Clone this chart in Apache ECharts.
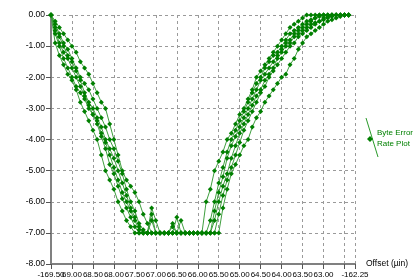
<!DOCTYPE html>
<html lang="en">
<head>
    <meta charset="UTF-8">
    <title>Byte Error Rate Plot</title>
    <script src="https://cdn.jsdelivr.net/npm/echarts@6/dist/echarts.min.js"></script>
    <style>
        html, body { margin: 0; padding: 0; background: #fff; }
        #chart { width: 414px; height: 280px; }
    </style>
</head>
<body>
    <div id="chart"></div>
<script>
    // offset positions (µin), shared by every run
    var xValues = [
        -169.5, -169.4, -169.3, -169.2, -169.1, -169.0, -168.9, -168.8, -168.7, -168.6,
        -168.5, -168.4, -168.3, -168.2, -168.1, -168.0, -167.9, -167.8, -167.7, -167.6,
        -167.5, -167.4, -167.3, -167.2, -167.1, -167.0, -166.9, -166.8, -166.7, -166.6,
        -166.5, -166.4, -166.3, -166.2, -166.1, -166.0, -165.9, -165.8, -165.7, -165.6,
        -165.5, -165.4, -165.3, -165.2, -165.1, -165.0, -164.9, -164.8, -164.7, -164.6,
        -164.5, -164.4, -164.3, -164.2, -164.1, -164.0, -163.9, -163.8, -163.7, -163.6,
        -163.5, -163.4, -163.3, -163.2, -163.1, -163.0, -162.9, -162.8, -162.7, -162.6,
        -162.5, -162.4
    ];

    // log byte error rate of each run
    var run1 = [
        0, -0.9, -1.3, -1.6, -1.9, -2.1, -2.4, -2.8, -3.1, -3.4,
        -3.7, -4.0, -4.5, -5.0, -5.3, -5.6, -6.0, -6.3, -6.6, -6.8,
        -7, -7, -7, -7, -6.6, -7, -7, -7, -7, -7,
        -7, -7, -7, -7, -7, -7, -7, -6.0, -5.6, -5.0,
        -4.7, -4.4, -4.0, -3.8, -3.5, -3.2, -3.0, -2.7, -2.4, -2.0,
        -1.8, -1.6, -1.4, -1.2, -1.0, -0.8, -0.6, -0.4, -0.3, -0.2,
        -0.1, 0, 0, 0, 0, 0, 0, 0, 0, 0,
        0, 0
    ];
    var run2 = [
        0, -0.2, -0.4, -0.6, -0.8, -1.0, -1.2, -1.5, -1.7, -1.9,
        -2.2, -2.5, -2.8, -3.0, -3.5, -4.0, -4.5, -5.0, -5.3, -5.5,
        -5.7, -6.0, -6.4, -6.7, -7, -7, -7, -7, -7, -7,
        -6.5, -7, -7, -7, -7, -7, -7, -7, -7, -7,
        -7, -6.2, -5.6, -5.1, -4.8, -4.5, -4.2, -4.0, -3.6, -3.3,
        -3.1, -2.8, -2.6, -2.4, -2.2, -2.0, -1.9, -1.6, -1.4, -1.1,
        -0.9, -0.7, -0.6, -0.5, -0.4, -0.3, -0.2, -0.15, -0.1, -0.05,
        0, 0
    ];
    var run3 = [
        0, -0.5, -0.9, -1.2, -1.4, -1.7, -2.0, -2.3, -2.6, -2.9,
        -3.2, -3.4, -3.8, -4.1, -4.5, -4.9, -5.3, -5.7, -6.0, -6.3,
        -6.6, -6.9, -7, -7, -6.4, -7, -7, -7, -7, -7,
        -7, -7, -7, -7, -7, -7, -7, -7, -7, -6.3,
        -5.7, -5.2, -4.6, -4.2, -3.9, -3.6, -3.3, -3.0, -2.7, -2.4,
        -2.1, -1.9, -1.7, -1.5, -1.3, -1.1, -0.9, -0.8, -0.6, -0.5,
        -0.4, -0.3, -0.2, -0.1, 0, 0, 0, 0, 0, 0,
        0, 0
    ];
    var run4 = [
        0, -0.4, -0.7, -1.0, -1.3, -1.5, -1.8, -2.1, -2.5, -2.8,
        -3.0, -3.3, -3.6, -4.0, -4.3, -4.6, -5.0, -5.4, -5.8, -6.2,
        -6.5, -6.8, -7, -7, -7, -7, -7, -7, -7, -6.7,
        -7, -6.6, -7, -7, -7, -7, -7, -7, -7, -6.6,
        -6.0, -5.5, -5.1, -4.6, -4.2, -3.8, -3.5, -3.2, -2.9, -2.6,
        -2.4, -2.1, -1.9, -1.7, -1.4, -1.2, -1.0, -0.9, -0.7, -0.6,
        -0.5, -0.4, -0.3, -0.25, -0.2, -0.1, -0.05, 0, 0, 0,
        0, 0
    ];
    var run5 = [
        0, -0.6, -1.0, -1.4, -1.7, -2.0, -2.3, -2.5, -2.7, -3.0,
        -3.2, -3.5, -3.9, -4.3, -4.8, -5.1, -5.5, -5.9, -6.2, -6.5,
        -6.8, -7, -7, -7, -6.2, -6.6, -7, -7, -7, -7,
        -7, -7, -7, -7, -7, -7, -7, -7, -6.6, -6.0,
        -5.4, -4.9, -4.4, -4.0, -3.7, -3.4, -3.1, -2.8, -2.5, -2.2,
        -2.0, -1.7, -1.5, -1.3, -1.2, -1.0, -0.8, -0.6, -0.5, -0.4,
        -0.3, -0.2, -0.15, -0.1, -0.05, 0, 0, 0, 0, 0,
        0, 0
    ];
    var run6 = [
        0, -0.3, -0.6, -0.9, -1.1, -1.4, -1.7, -2.0, -2.2, -2.4,
        -2.7, -3.0, -3.3, -3.6, -4.0, -4.3, -4.7, -5.1, -5.6, -6.0,
        -6.3, -6.7, -6.9, -7, -7, -7, -7, -7, -7, -6.8,
        -7, -7, -7, -7, -7, -7, -7, -7, -7, -7,
        -6.4, -5.8, -5.3, -4.9, -4.5, -4.1, -3.7, -3.4, -3.1, -2.8,
        -2.5, -2.3, -2.0, -1.8, -1.6, -1.4, -1.2, -1.0, -0.9, -0.7,
        -0.6, -0.5, -0.4, -0.3, -0.2, -0.15, -0.1, -0.05, 0, 0,
        0, 0
    ];

    var runs = [run1, run2, run3, run4, run5, run6];
    var legendName = 'Byte Error\nRate Plot';
    var FONT = 'Liberation Sans';
    var X_MIN = -169.5, X_MAX = -162.25;

    var seriesList = runs.map(function (r) {
        return {
            type: 'line',
            name: legendName,
            xAxisIndex: 0,
            data: xValues.map(function (x, i) { return [x, r[i]]; }),
            symbol: 'diamond',
            symbolSize: 5,
            showAllSymbol: true,
            lineStyle: { width: 1, color: '#3f9f3f' },
            itemStyle: { color: '#007f00' },
            emphasis: { disabled: true }
        };
    });

    function isVal(v, t) { return Math.abs(v - t) < 1e-6; }

    var option = {
        animation: false,
        backgroundColor: '#fff',
        grid: { left: 51, right: 59, top: 15, bottom: 16 },
        legend: {
            data: [legendName],
            left: 367,
            top: 122,
            orient: 'vertical',
            icon: 'rect',
            itemWidth: 0,
            itemHeight: 0,
            textStyle: { color: '#008000', fontSize: 8, fontFamily: FONT, lineHeight: 11 },
            selectedMode: false
        },
        // legend marker: slanted line with a diamond, as in the original key
        graphic: [
            { type: 'line', shape: { x1: 366, y1: 118, x2: 378, y2: 157 }, style: { stroke: '#2a9a2a', lineWidth: 1 } },
            { type: 'polygon', shape: { points: [[370, 136], [373, 139], [370, 142], [367, 139]] }, style: { fill: '#007f00' } }
        ],
        xAxis: [{
            type: 'value',
            min: X_MIN,
            max: X_MAX,
            interval: 0.5,
            name: 'Offset (µin)',
            nameLocation: 'end',
            nameGap: 11,
            nameTextStyle: { color: '#000', fontSize: 8.5, fontFamily: FONT, padding: [11, 0, 0, 0] },
            axisLine: { show: true, onZero: false, lineStyle: { color: '#808080', width: 2 } },
            axisTick: { show: true, length: 5, lineStyle: { color: '#555' } },
            axisLabel: {
                color: '#000',
                fontSize: 8,
                fontFamily: FONT,
                margin: 7,
                hideOverlap: false,
                showMinLabel: true,
                showMaxLabel: true,
                formatter: function (v) {
                    // first label is drawn by the overlay axis below
                    if (isVal(v, X_MIN) || isVal(v, -162.5)) return '';
                    if (isVal(v, X_MAX)) return v.toFixed(2);
                    return v.toFixed(2).slice(2);
                }
            },
            splitLine: { show: true, lineStyle: { type: [3, 3], color: '#9a9a9a', width: 1 } }
        }, {
            // overlay axis only for the "-169.50" label
            type: 'value',
            min: X_MIN,
            max: X_MAX,
            interval: 0.5,
            position: 'bottom',
            axisLine: { show: false, onZero: false },
            axisTick: { show: false },
            splitLine: { show: false },
            axisLabel: {
                color: '#000',
                fontSize: 8,
                fontFamily: FONT,
                margin: 7,
                showMinLabel: true,
                formatter: function (v) { return isVal(v, X_MIN) ? v.toFixed(2) : ''; }
            }
        }],
        yAxis: {
            type: 'value',
            min: -8,
            max: 0,
            interval: 1,
            axisLine: { show: true, onZero: false, lineStyle: { color: '#808080', width: 2 } },
            axisTick: { show: true, length: 5, lineStyle: { color: '#555' } },
            axisLabel: {
                color: '#000',
                fontSize: 8.5,
                fontFamily: FONT,
                margin: 6,
                formatter: function (v) { return v.toFixed(2); }
            },
            splitLine: { show: true, lineStyle: { type: [3, 3], color: '#9a9a9a', width: 1 } }
        },
        series: seriesList
    };

    var mychart = echarts.init(document.getElementById('chart'));
    mychart.setOption(option);
</script>
</body>
</html>
